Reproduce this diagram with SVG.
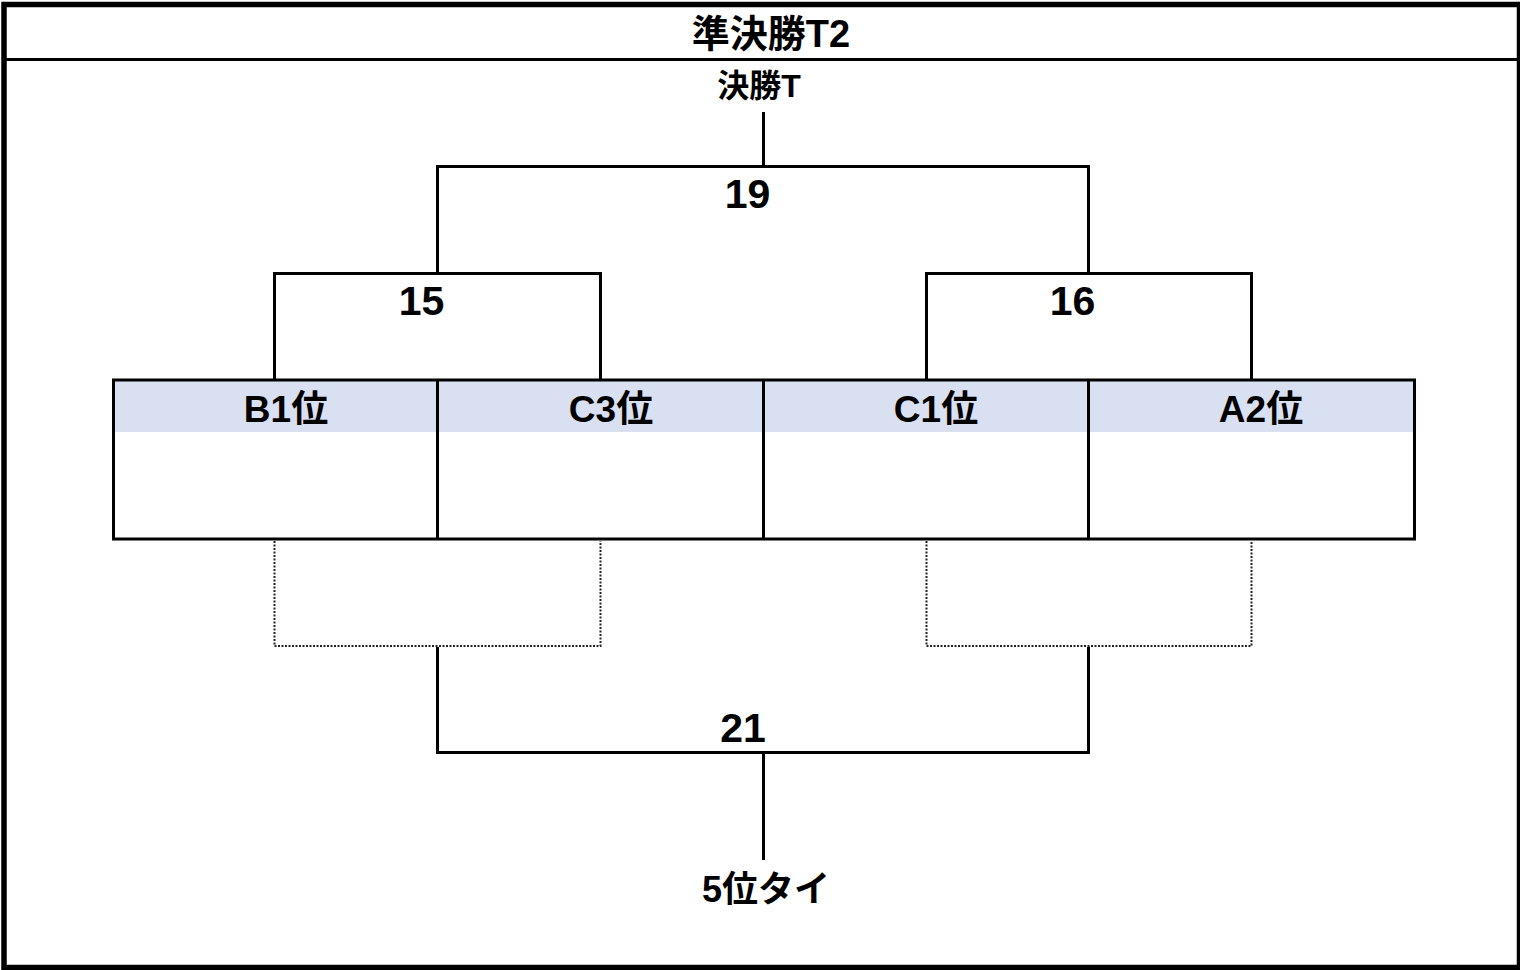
<svg xmlns="http://www.w3.org/2000/svg" width="1520" height="970" viewBox="0 0 1520 970">
<style>
.t{font-family:"Liberation Sans","Noto Sans CJK JP",sans-serif;font-weight:bold;fill:#000;text-anchor:middle}
.n{font-family:"Liberation Sans","Noto Sans CJK JP",sans-serif;font-weight:bold;fill:#000;text-anchor:middle;font-size:41px}
.ln{stroke:#000;stroke-width:3;fill:none}
.dot{stroke:#222;stroke-width:2;fill:none;stroke-dasharray:2 1.5}
.hd{fill:#D9E0F2}
</style>
<rect x="0" y="0" width="1520" height="970" fill="#fff"/>
<g id="frame">
<rect x="4" y="4.5" width="1515.5" height="963" fill="none" stroke="#000" stroke-width="5.5"/>
<line x1="4" y1="59.5" x2="1518" y2="59.5" stroke="#000" stroke-width="3"/>
<text class="t" x="771" y="47" font-size="38">準決勝T2</text>
</g>
<g id="table">
<rect class="hd" x="113" y="381" width="1301" height="51"/>
<rect x="113.5" y="380" width="1301" height="159" fill="none" stroke="#000" stroke-width="3"/>
<line class="ln" x1="437.5" y1="380" x2="437.5" y2="540"/>
<line class="ln" x1="763.5" y1="380" x2="763.5" y2="540"/>
<line class="ln" x1="1088.5" y1="380" x2="1088.5" y2="540"/>
</g>
<g id="node-b1"><text class="t" x="286" y="422" font-size="37">B1位</text></g>
<g id="node-c3"><text class="t" x="611" y="422" font-size="37">C3位</text></g>
<g id="node-c1"><text class="t" x="936" y="422" font-size="37">C1位</text></g>
<g id="node-a2"><text class="t" x="1261" y="422" font-size="37">A2位</text></g>
<g id="node-final"><text class="t" x="759" y="97" font-size="32">決勝T</text></g>
<g id="node-19"><text class="n" x="747.5" y="208">19</text></g>
<g id="node-15"><text class="n" x="421.5" y="315">15</text></g>
<g id="node-16"><text class="n" x="1072.5" y="315">16</text></g>
<g id="node-21"><text class="n" x="743" y="742">21</text></g>
<g id="node-5th"><text class="t" x="766" y="902" font-size="36">5位タイ</text></g>
<g id="connectors">
<line class="ln" x1="763.5" y1="112" x2="763.5" y2="166"/>
<polyline class="ln" points="437.5,273 437.5,166.5 1088.5,166.5 1088.5,273"/>
<polyline class="ln" points="274.5,380 274.5,273.5 600.5,273.5 600.5,380"/>
<polyline class="ln" points="926.5,380 926.5,273.5 1251.5,273.5 1251.5,380"/>
<polyline class="dot" points="274.5,541 274.5,646 600.5,646 600.5,541"/>
<polyline class="dot" points="926.5,541 926.5,646 1251.5,646 1251.5,541"/>
<polyline class="ln" points="437.5,647 437.5,752.5 1088.5,752.5 1088.5,647"/>
<line class="ln" x1="763.5" y1="752" x2="763.5" y2="860"/>
</g>
</svg>
